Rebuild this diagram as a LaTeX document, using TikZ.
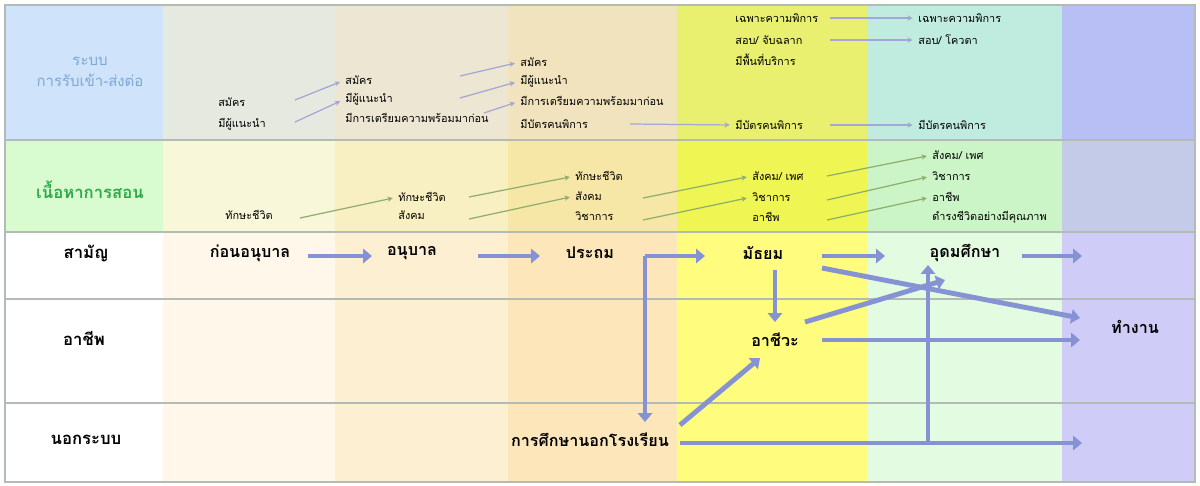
\documentclass[tikz,border=0pt]{standalone}
\usepackage{fontspec}
\newfontfamily\thaifont[Script=Thai]{Loma}
\usetikzlibrary{arrows.meta,calc}

\definecolor{hdblue}{HTML}{CFE3FA}
\definecolor{hdgreen}{HTML}{D8FBD0}
\definecolor{aA}{HTML}{E6E9DF}
\definecolor{aB}{HTML}{EDE6D2}
\definecolor{aC}{HTML}{F0E3BD}
\definecolor{aD}{HTML}{E9EF6E}
\definecolor{aE}{HTML}{C0ECE0}
\definecolor{aF}{HTML}{B8BFF4}
\definecolor{cA}{HTML}{F8F7D9}
\definecolor{cB}{HTML}{F8F0C2}
\definecolor{cC}{HTML}{F6E7A6}
\definecolor{cD}{HTML}{EFF552}
\definecolor{cE}{HTML}{CBF5C6}
\definecolor{cF}{HTML}{C3CBE8}
\definecolor{sA}{HTML}{FFF8EA}
\definecolor{sB}{HTML}{FDF0D2}
\definecolor{sC}{HTML}{FDE6BA}
\definecolor{sD}{HTML}{FFFC7E}
\definecolor{sE}{HTML}{E3FBE1}
\definecolor{sF}{HTML}{CFCDF7}
\definecolor{flowblue}{HTML}{8592D4}
\definecolor{admline}{HTML}{A4A6D8}
\definecolor{conline}{HTML}{8FAE6E}
\definecolor{gridgray}{HTML}{B4BAB4}
\definecolor{hdtext}{HTML}{7EA7D8}
\definecolor{hdgtext}{HTML}{2FA84A}

\tikzset{
  small/.style={anchor=west, inner sep=0pt, font=\thaifont\fontsize{6.2}{7}\selectfont},
  level/.style={inner sep=0pt, font=\thaifont\bfseries\fontsize{9.2}{11}\selectfont},
  rowname/.style={inner sep=0pt, font=\thaifont\bfseries\fontsize{9.5}{11}\selectfont},
  flow/.style={draw=flowblue, line width=2.8pt, -{Triangle[length=5pt,width=8pt]}},
  admarrow/.style={draw=admline, line width=0.7pt, -{Stealth[length=3pt,width=3pt]}, shorten >=3pt},
  conarrow/.style={draw=conline, line width=0.7pt, -{Stealth[length=3pt,width=3pt]}, shorten >=3pt}
}

\begin{document}
\begin{tikzpicture}[x=0.02cm,y=-0.02cm]
\useasboundingbox (0,0) rectangle (1200,485);
\fill[white] (0,0) rectangle (1200,485);

% admission row
\fill[hdblue] (5,5) rectangle (163,140);
\fill[aA] (163,5) rectangle (335,140);
\fill[aB] (335,5) rectangle (508,140);
\fill[aC] (508,5) rectangle (677,140);
\fill[aD] (677,5) rectangle (867,140);
\fill[aE] (867,5) rectangle (1062,140);
\fill[aF] (1062,5) rectangle (1195,140);
% content row
\fill[hdgreen] (5,140) rectangle (163,232);
\fill[cA] (163,140) rectangle (335,232);
\fill[cB] (335,140) rectangle (508,232);
\fill[cC] (508,140) rectangle (677,232);
\fill[cD] (677,140) rectangle (867,232);
\fill[cE] (867,140) rectangle (1062,232);
\fill[cF] (1062,140) rectangle (1195,232);
% school rows
\fill[sA] (163,232) rectangle (335,482);
\fill[sB] (335,232) rectangle (508,482);
\fill[sC] (508,232) rectangle (677,482);
\fill[sD] (677,232) rectangle (867,482);
\fill[sE] (867,232) rectangle (1062,482);
\fill[sF] (1062,232) rectangle (1195,482);

\draw[gridgray, line width=0.6pt] (5,5) rectangle (1195,482);
\foreach \y in {140,232,299,403}
  \draw[gridgray, line width=0.6pt] (5,\y) -- (1195,\y);

% row names
\node[inner sep=0pt, align=center, text=hdtext, font=\thaifont\fontsize{8.5}{12}\selectfont] (hdadm) at (90,72) {ระบบ\\การรับเข้า-ส่งต่อ};
\node[rowname, text=hdgtext] (hdcon) at (90,190) {เนื้อหาการสอน};
\node[rowname] (rgen) at (86,253) {สามัญ};
\node[rowname] (rvoc) at (84,338) {อาชีพ};
\node[rowname] (rnon) at (86,440) {นอกระบบ};

% admission items
\node[small] (adm1a) at (218,102) {สมัคร};
\node[small] (adm1b) at (218,124) {มีผู้แนะนำ};
\node[small] (adm2a) at (345,80) {สมัคร};
\node[small] (adm2b) at (345,99) {มีผู้แนะนำ};
\node[small] (adm2c) at (345,118) {มีการเตรียมความพร้อมมาก่อน};
\node[small] (adm3a) at (520,62) {สมัคร};
\node[small] (adm3b) at (520,81) {มีผู้แนะนำ};
\node[small] (adm3c) at (520,101) {มีการเตรียมความพร้อมมาก่อน};
\node[small] (adm3d) at (520,124) {มีบัตรคนพิการ};
\node[small] (adm4a) at (735,18) {เฉพาะความพิการ};
\node[small] (adm4b) at (735,40) {สอบ/ จับฉลาก};
\node[small] (adm4c) at (735,60) {มีพื้นที่บริการ};
\node[small] (adm4d) at (735,125) {มีบัตรคนพิการ};
\node[small] (adm5a) at (918,18) {เฉพาะความพิการ};
\node[small] (adm5b) at (918,40) {สอบ/ โควตา};
\node[small] (adm5d) at (918,125) {มีบัตรคนพิการ};

\coordinate (at1) at (295,0);
\coordinate (at2) at (460,0);
\coordinate (at2c) at (484,0);
\coordinate (at3) at (630,0);
\coordinate (at4) at (830,0);
\draw[admarrow] ($(at1 |- adm1a)+(0,-2)$) -- (adm2a.west);
\draw[admarrow] ($(at1 |- adm1b)+(0,-2)$) -- (adm2b.west);
\draw[admarrow] ($(at2 |- adm2a)+(0,-4)$) -- (adm3a.west);
\draw[admarrow] ($(at2 |- adm2b)+(0,-1)$) -- (adm3b.west);
\draw[admarrow] ($(at2c |- adm2c)+(0,-5)$) -- (adm3c.west);
\draw[admarrow] (at3 |- adm3d) -- (adm4d.west);
\draw[admarrow] (at4 |- adm4a) -- (adm5a.west);
\draw[admarrow] (at4 |- adm4b) -- (adm5b.west);
\draw[admarrow] (at4 |- adm4d) -- (adm5d.west);

% content items
\node[small] (con1a) at (225,215) {ทักษะชีวิต};
\node[small] (con2a) at (398,197) {ทักษะชีวิต};
\node[small] (con2b) at (398,215) {สังคม};
\node[small] (con3a) at (575,176) {ทักษะชีวิต};
\node[small] (con3b) at (575,196) {สังคม};
\node[small] (con3c) at (575,216) {วิชาการ};
\node[small] (con4a) at (752,176) {สังคม/ เพศ};
\node[small] (con4b) at (752,197) {วิชาการ};
\node[small] (con4c) at (752,217) {อาชีพ};
\node[small] (con5a) at (932,155) {สังคม/ เพศ};
\node[small] (con5b) at (932,176) {วิชาการ};
\node[small] (con5c) at (932,197) {อาชีพ};
\node[small] (con5d) at (932,217) {ดำรงชีวิตอย่างมีคุณภาพ};

\coordinate (ct1) at (300,0);
\coordinate (ct2) at (469,0);
\coordinate (ct3) at (643,0);
\coordinate (ct4) at (827,0);
\draw[conarrow] ($(ct1 |- con1a)+(0,3)$) -- (con2a.west);
\draw[conarrow] (ct2 |- con2a) -- (con3a.west);
\draw[conarrow] ($(ct2 |- con2b)+(0,4)$) -- (con3b.west);
\draw[conarrow] ($(ct3 |- con3b)+(0,2)$) -- (con4a.west);
\draw[conarrow] ($(ct3 |- con3c)+(0,4)$) -- (con4b.west);
\draw[conarrow] (ct4 |- con4a) -- (con5a.west);
\draw[conarrow] ($(ct4 |- con4b)+(0,3)$) -- (con5b.west);
\draw[conarrow] ($(ct4 |- con4c)+(0,3)$) -- (con5c.west);

% levels
\node[level] (pre) at (250,253) {ก่อนอนุบาล};
\node[level] (kg) at (412,253) {อนุบาล};
\node[level] (prim) at (590,253) {ประถม};
\node[level] (sec) at (763,253) {มัธยม};
\node[level] (uni) at (965,253) {อุดมศึกษา};
\node[level] (voc) at (775,340) {อาชีวะ};
\node[level] (work) at (1135,327) {ทำงาน};
\node[level] (nonf) at (590,440) {การศึกษานอกโรงเรียน};

\coordinate (split) at ($(prim)+(55,3)$);
\coordinate (uniout) at (1082,256);
\coordinate (nfout) at (1082,443);
\coordinate (rise) at (928,443);

\draw[flow] ($(pre)+(58,3)$) -- ($(kg)+(-40,3)$);
\draw[flow] ($(kg)+(66,3)$) -- ($(prim)+(-50,3)$);
\draw[flow] (split) -- ($(sec)+(-58,3)$);
\draw[flow] (split) -- ($(nonf)+(55,-18)$);
\draw[flow] ($(sec)+(59,3)$) -- ($(uni)+(-80,3)$);
\draw[flow] ($(uni)+(57,3)$) -- (uniout);
\draw[flow] ($(sec)+(12,17)$) -- ($(voc)+(0,-18)$);
\draw[flow] ($(sec)+(59,15)$) -- ($(work)+(-55,-9)$);
\draw[flow] ($(voc)+(30,-18)$) -- ($(uni)+(-20,27)$);
\draw[flow] ($(voc)+(47,0)$) -- ($(work)+(-55,13)$);
\draw[flow] ($(nonf)+(90,-15)$) -- ($(voc)+(-15,18)$);
\draw[flow] ($(nonf)+(90,3)$) -- (nfout);
\draw[flow] (rise) -- ($(rise |- uni)+(0,12)$);
\end{tikzpicture}
\end{document}
